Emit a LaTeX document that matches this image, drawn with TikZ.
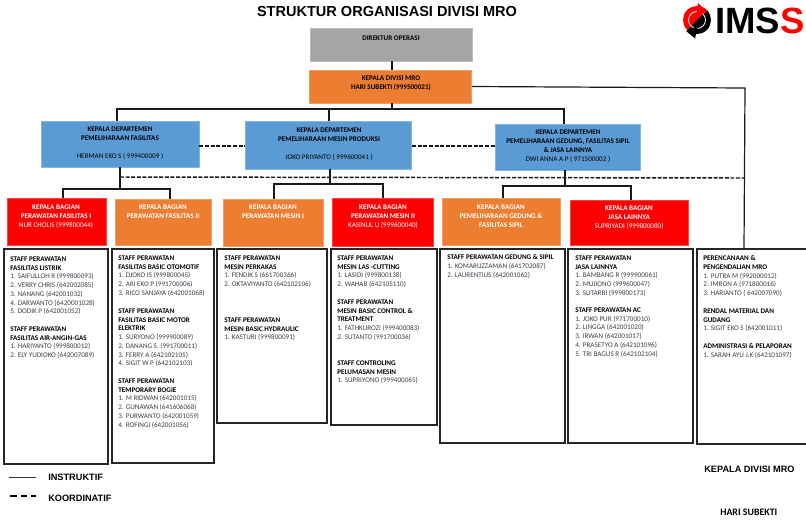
\documentclass[tikz,border=0pt]{standalone}
\usepackage{fontspec}
\setmainfont{Carlito}
\newfontfamily\arialfont{Liberation Sans}
\definecolor{grayhead}{HTML}{A5A5A5}
\definecolor{orangebox}{HTML}{ED7D31}
\definecolor{bluebox}{HTML}{5B9BD5}
\definecolor{inktxt}{HTML}{3A3F4A}
\newcommand{\hd}[1]{{\bfseries\color{black}#1}}
\tikzset{
    orgbox/.style={draw=#1!75!white,fill=#1,line width=0.6pt,inner sep=0pt},
    staffbox/.style={draw=black!85,line width=1.1pt,fill=white,inner sep=0pt},
    boxtxt/.style={anchor=north,align=center,inner sep=0pt,text=black,
        font=\fontsize{5.35}{6.55}\selectfont\bfseries},
    bagtxt/.style={boxtxt,text=white},
    stafftxt/.style={anchor=north west,align=left,inner sep=0pt,text=inktxt,
        font=\fontsize{5.35}{6.55}\selectfont},
    org/.style={draw=black!90,line width=1.1pt},
    koor/.style={org,dash pattern=on 3pt off 1.2pt},
    legendtxt/.style={anchor=west,inner sep=0pt,font=\arialfont\fontsize{6.9}{8}\selectfont\bfseries}
}
\begin{document}
\begin{tikzpicture}[x=0.75pt,y=-0.75pt]
        \useasboundingbox (0,0) rectangle (806,529);
        \node[inner sep=0pt,font=\arialfont\fontsize{10.9}{13}\selectfont\bfseries] (title) at (387,11) {STRUKTUR ORGANISASI DIVISI MRO};
        % logo
        \begin{scope}[shift={(697,20)},y=0.75pt]
            \fill[red] (45:14) arc (45:225:14) -- cycle;
            \fill[black] (45:14) arc (45:-135:14) -- cycle;
            \draw[white,line width=0.6pt] (0,0) circle (8.5);
            \fill[red] (1,17) -- (10,8) -- (-1,4) -- cycle;
            \fill[black] (-2,-18.5) -- (-11,-11) -- (1,-6) -- cycle;
        \end{scope}
        \node[inner sep=0pt,anchor=west,font=\arialfont\fontsize{27.4}{30}\selectfont\bfseries] (logotxt) at (715,21) {IMS\textcolor{red}{S}};

        % top boxes
        \node[orgbox=grayhead,minimum width=122pt,minimum height=24.7pt] (dir) at (391.5,44.5) {};
        \node[orgbox=orangebox,minimum width=122pt,minimum height=24.7pt] (kadiv) at (390.5,86.5) {};
        \node[boxtxt] (dirtxt) at (391,35.5) {DIREKTUR OPERASI};
        \node[boxtxt] (kadivtxt) at (391,76) {KEPALA DIVISI MRO\\HARI SUBEKTI (999500021)};
        % departments
        \node[orgbox=bluebox,minimum width=118.5pt,minimum height=34.5pt] (dep1) at (120,144) {};
        \node[orgbox=bluebox,minimum width=125pt,minimum height=36pt] (dep2) at (328.5,145) {};
        \node[orgbox=bluebox,minimum width=108.7pt,minimum height=34.5pt] (dep3) at (567.5,147) {};
        \node[boxtxt] (dep1txt) at (120,127) {KEPALA DEPARTEMEN\\PEMELIHARAAN  FASILITAS\\~\\\mdseries HERMAN EKO S ( 999400009 )};
        \node[boxtxt] (dep2txt) at (329,128) {KEPALA DEPARTEMEN\\PEMELIHARAAN MESIN PRODUKSI\\~\\\mdseries JOKO PRIYANTO ( 999600041 )};
        \node[boxtxt] (dep3txt) at (568,130) {KEPALA DEPARTEMEN\\PEMELIHARAAN GEDUNG, FASILITAS SIPIL\\\& JASA LAINNYA\\\mdseries DWI ANNA A  P ( 971500002 )};
        % bagian
        \node[orgbox=red,minimum width=74.2pt,minimum height=35.2pt] (bag1) at (56.5,221.5) {};
        \node[orgbox=orangebox,minimum width=72pt,minimum height=34.5pt] (bag2) at (163,222) {};
        \node[orgbox=orangebox,minimum width=75pt,minimum height=35.2pt] (bag3) at (273,222.5) {};
        \node[orgbox=red,minimum width=75.7pt,minimum height=36pt] (bag4) at (382.5,222) {};
        \node[orgbox=orangebox,minimum width=88.5pt,minimum height=35.2pt] (bag5) at (501,221.5) {};
        \node[orgbox=red,minimum width=88.5pt,minimum height=33.7pt] (bag6) at (629,222.5) {};
        \node[bagtxt] (bag1txt) at (56,205) {KEPALA BAGIAN\\PERAWATAN FASILITAS I\\\mdseries NUR CHOLIS (999800044)};
        \node[bagtxt] (bag2txt) at (163,205) {KEPALA BAGIAN\\PERAWATAN  FASILITAS II};
        \node[bagtxt] (bag3txt) at (273,205) {KEPALA BAGIAN\\PERAWATAN MESIN  I};
        \node[bagtxt] (bag4txt) at (383,205) {KEPALA BAGIAN\\PERAWATAN MESIN II\\\mdseries KASINUL U (999600040)};
        \node[bagtxt] (bag5txt) at (501,205) {KEPALA BAGIAN\\PEMELIHARAAN  GEDUNG \&\\FASILITAS SIPIL};
        \node[bagtxt] (bag6txt) at (629,206) {KEPALA BAGIAN\\JASA LAINNYA\\\mdseries SUPRIYADI (999800080)};
        % staff boxes
        \node[staffbox,minimum width=78pt,minimum height=161pt] (staff1) at (56,356.5) {};
        \node[staffbox,minimum width=76.5pt,minimum height=160.5pt] (staff2) at (163,356) {};
        \node[staffbox,minimum width=82.5pt,minimum height=130.5pt] (staff3) at (272,336) {};
        \node[staffbox,minimum width=79.5pt,minimum height=132pt] (staff4) at (384,337) {};
        \node[staffbox,minimum width=93.7pt,minimum height=145.5pt] (staff5) at (502.5,346) {};
        \node[staffbox,minimum width=93.7pt,minimum height=145.5pt] (staff6) at (630.5,346) {};
        \node[staffbox,minimum width=82.5pt,minimum height=146pt] (staff7) at (752,346.5) {};
        % first column
        \node[stafftxt] (s1a) at (10,256.5) {\hd{STAFF PERAWATAN}\\\hd{FASILITAS LISTRIK}\\1. SAIFULLOH R (999800093)\\2. VERRY CHRIS (642002085)\\3. NANANG (642001032)\\4. DARWANTO (6420001028)\\5. DODIK P (642001052)};
        \node[stafftxt] (s1b) at (10,326.5) {\hd{STAFF PERAWATAN}\\\hd{FASILITAS AIR-ANGIN-GAS}\\1. HARIYANTO (999800012)\\2. ELY YUDIOKO (642007089)};
        % second column
        \node[stafftxt] (s2a) at (118,255.5) {\hd{STAFF PERAWATAN}\\\hd{FASILITAS  BASIC OTOMOTIF}\\1. DJOKO IS (999800045)\\2. ARI EKO P (991700006)\\3. RICO SANJAYA (642001068)};
        \node[stafftxt] (s2b) at (118,308.5) {\hd{STAFF PERAWATAN}\\\hd{FASILITAS  BASIC MOTOR}\\\hd{ELEKTRIK}\\1. SURYONO (999900089)\\2. DANANG S. (991700011)\\3. FERRY A (642102105)\\4. SIGIT W P (642102103)};
        \node[stafftxt] (s2c) at (118,378.5) {\hd{STAFF PERAWATAN}\\\hd{TEMPORARY BOGIE}\\1. M RIDWAN (642001015)\\2. GUNAWAN (641606068)\\3. PURWANTO (642001059)\\4. ROFINGI (642001056)};
        % third column
        \node[stafftxt] (s3a) at (224,255.5) {\hd{STAFF PERAWATAN}\\\hd{MESIN PERKAKAS}\\1. FENDIK S (661700366)\\2. OKTAVIYANTO (642102106)};
        \node[stafftxt] (s3b) at (224,317.5) {\hd{STAFF PERAWATAN}\\\hd{MESIN BASIC HYDRAULIC}\\1. KASTURI (999800091)};
        % fourth column
        \node[stafftxt] (s4a) at (337,255.5) {\hd{STAFF PERAWATAN}\\\hd{MESIN  LAS -CUTTING}\\1. LASIDI (999800138)\\2. WAHAB (642105110)};
        \node[stafftxt] (s4b) at (337,299.5) {\hd{STAFF PERAWATAN}\\\hd{MESIN BASIC CONTROL \&}\\\hd{TREATMENT}\\1. FATHKUROZI (999400083)\\2. SUTANTO (991700036)};
        \node[stafftxt] (s4c) at (337,360.5) {\hd{STAFF CONTROLING}\\\hd{PELUMASAN MESIN}\\1. SUPRIYONO (999400065)};
        % fifth column
        \node[stafftxt] (s5a) at (447,254.5) {\hd{STAFF PERAWATAN GEDUNG  \& SIPIL}\\1. KOMARUZZAMAN (641702087)\\2. LAURENTIUS (642001062)};
        % sixth column
        \node[stafftxt] (s6a) at (575,255.5) {\hd{STAFF PERAWATAN}\\\hd{JASA LAINNYA}\\1. BAMBANG R (999900061)\\2. MUJIONO (999600047)\\3. SUTARBI (999800173)};
        \node[stafftxt] (s6b) at (575,307.5) {\hd{STAFF PERAWATAN AC}\\1. JOKO PUR (971700010)\\2. LINGGA (642001020)\\3. IRWAN (642001017)\\4. PRASETYO A (642101096)\\5. TRI BAGUS R (642102104)};
        % last column
        \node[stafftxt] (s7a) at (703,255.5) {\hd{PERENCANAAN \&}\\\hd{PENGENDALIAN MRO}\\1. PUTRA M (992000012)\\2. IMRON A (971800016)\\3. HARIANTO ( 642007090)};
        \node[stafftxt] (s7b) at (703,308.5) {\hd{RENDAL MATERIAL DAN}\\\hd{GUDANG}\\1. SIGIT EKO S (642001011)};
        \node[stafftxt] (s7c) at (703,343.5) {\hd{ADMINISTRASI \& PELAPORAN}\\1. SARAH AYU J.K (642101097)};

        % lines from the head
        \coordinate (busl) at (117,109);
        \coordinate (busr) at (564,109);
        \draw[org] (dir.south -| 392,0) -- (kadiv.north -| 392,0);
        \draw[org] (kadiv.south -| 392,0) -- (392,109);
        \draw[org] (dep1.north -| busl) -- (busl) -- (busr) -- (dep3.north -| busr);
        \draw[org] (dep2.north -| 329,0) -- (329,109);
        \draw[org,line width=0.9pt] (kadiv.east) -- (745,88) -- (staff7.north -| 744,0);
        % dashed
        \draw[koor] (dep1.east |- 0,146) -- (dep2.west |- 0,146);
        \draw[koor] (dep2.east |- 0,146) -- (dep3.west |- 0,146);
        \coordinate (koorl) at (120,177);
        \coordinate (koorr) at (744,178);
        \draw[koor] (koorl) -- (koorr);
        % first dept
        \draw[org] (dep1.south -| 120,0) -- (120,189);
        \draw[org] (bag1.north -| 63,0) -- (63,189) -- (170,189) -- (bag2.north -| 170,0);
        % second dept
        \draw[org] (dep2.south -| 330,0) -- (330,184);
        \draw[org] (bag3.north -| 274,0) -- (274,184) -- (383,184) -- (bag4.north -| 383,0);
        % third dept
        \draw[org] (dep3.south -| 565,0) -- (565,186);
        \draw[org] (bag5.north -| 503,0) -- (503,186) -- (631,186) -- (bag6.north -| 631,0);

        % legend
        \coordinate (leg1a) at (9,477);
        \coordinate (leg1b) at (36,477);
        \coordinate (leg2a) at (10,496);
        \coordinate (leg2b) at (36,496);
        \draw[draw=black!80,line width=0.6pt] (leg1a) -- (leg1b);
        \draw[draw=black,line width=1.2pt,dash pattern=on 5pt off 3pt] (leg2a) -- (leg2b);
        \node[legendtxt] (instruktif) at (48,477) {INSTRUKTIF};
        \node[legendtxt] (koordinatif) at (48,498) {KOORDINATIF};
        \node[legendtxt] (kadivsign) at (704,469) {KEPALA DIVISI MRO};
        \node[inner sep=0pt,anchor=west,font=\fontsize{7.4}{9}\selectfont\bfseries] (harisign) at (720,512) {HARI SUBEKTI};
    \end{tikzpicture}
\end{document}
